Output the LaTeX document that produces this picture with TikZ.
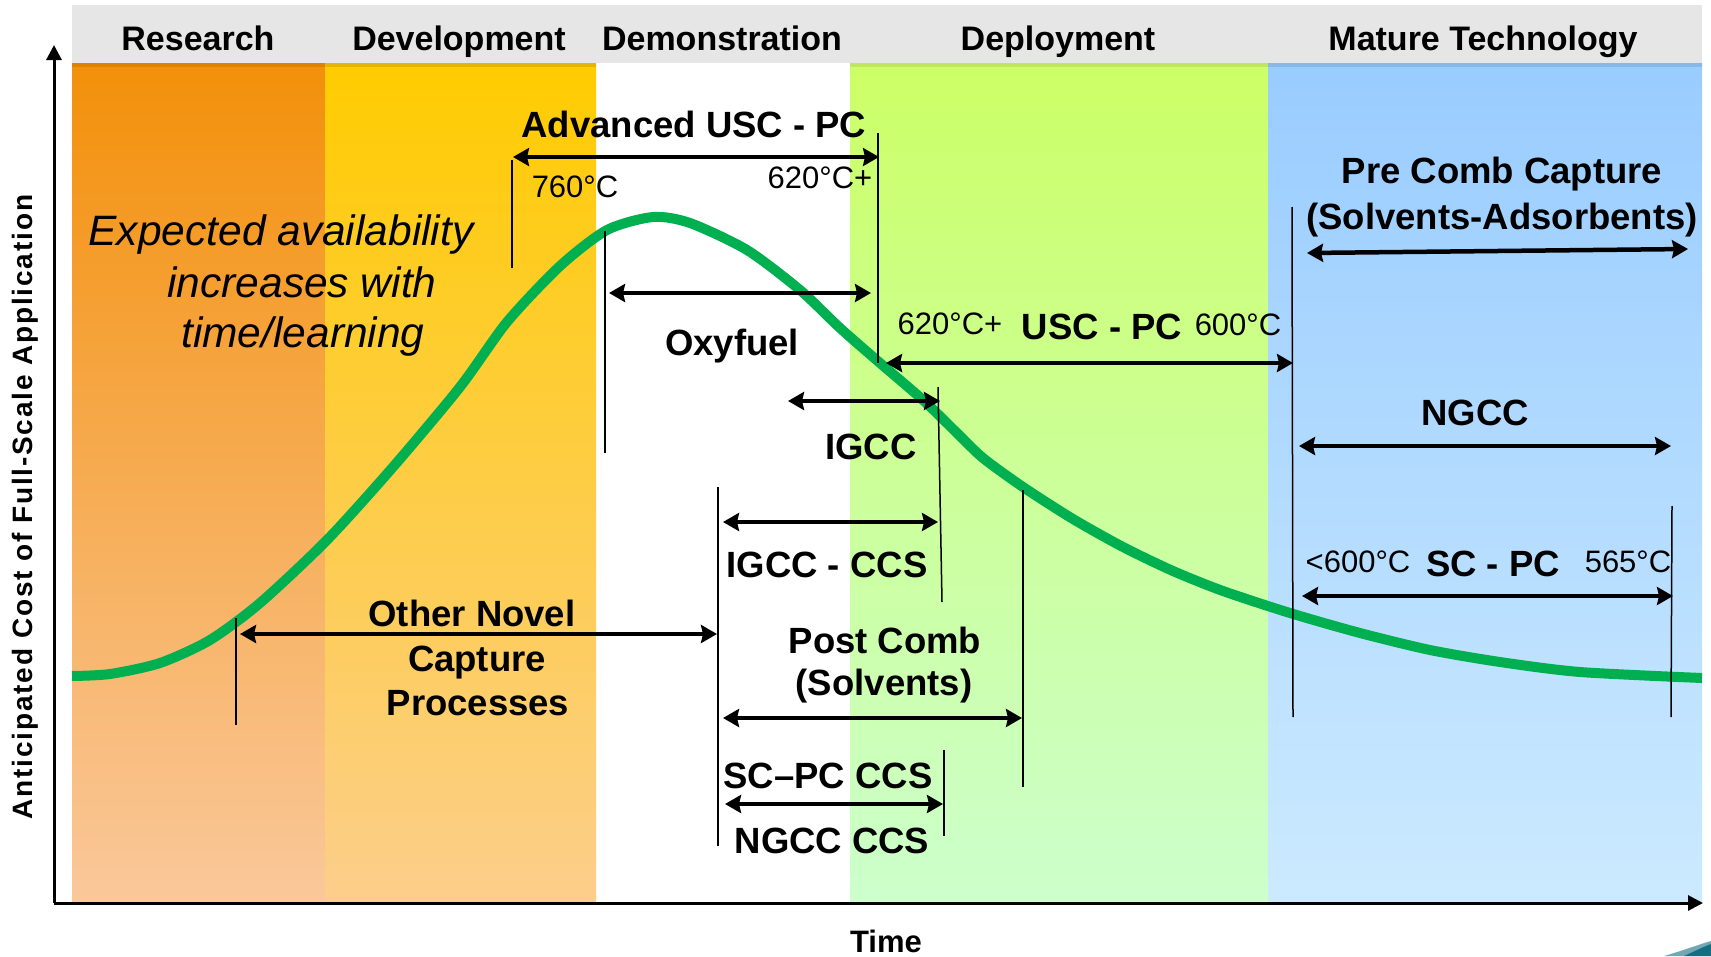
\documentclass[tikz,border=0pt]{standalone}
\usepackage{fontspec}
\setmainfont{Liberation Sans}
\newfontfamily\axisfont[LetterSpace=6.5]{Liberation Sans}
\usetikzlibrary{arrows.meta}
\definecolor{hdrgray}{RGB}{230,230,230}
\definecolor{resTop}{RGB}{243,144,10}
\definecolor{resBot}{RGB}{250,200,155}
\definecolor{resStr}{RGB}{222,130,0}
\definecolor{devTop}{RGB}{255,204,0}
\definecolor{devBot}{RGB}{252,206,140}
\definecolor{devStr}{RGB}{228,182,0}
\definecolor{depTop}{RGB}{204,255,102}
\definecolor{depBot}{RGB}{204,255,204}
\definecolor{depStr}{RGB}{190,230,95}
\definecolor{matTop}{RGB}{153,204,255}
\definecolor{matBot}{RGB}{204,234,255}
\definecolor{matStr}{RGB}{138,184,230}
\definecolor{curvegreen}{RGB}{0,176,80}
\definecolor{logoteal}{RGB}{20,110,130}
\begin{document}
\begin{tikzpicture}[x=1pt,y=-1pt,
  hdr/.style={font=\fontsize{34}{40}\selectfont\bfseries, anchor=base, inner sep=0pt},
  lbl/.style={font=\fontsize{36.5}{42}\selectfont\bfseries, anchor=base, inner sep=0pt},
  tmp/.style={font=\fontsize{31}{36}\selectfont, anchor=base, inner sep=0pt},
  ital/.style={font=\fontsize{42.5}{48}\selectfont\itshape, anchor=base, inner sep=0pt},
  darrow/.style={line width=4.5pt, {Stealth[length=16pt,width=18pt,inset=2pt]}-{Stealth[length=16pt,width=18pt,inset=2pt]}},
  axis/.style={line width=3pt, -{Triangle[length=15pt,width=15pt]}},
  tickline/.style={line width=1.5pt},
  costcurve/.style={line width=10pt, color=curvegreen, line join=round}
]
\useasboundingbox (0,0) rectangle (1711,956);
\fill[white] (0,0) rectangle (1711,956);

% header band
\fill[hdrgray] (72,5) rectangle (1702,63);

% stage bands
\shade[top color=resTop, bottom color=resBot] (72,63) rectangle (325,903);
\shade[top color=devTop, bottom color=devBot] (325,63) rectangle (596,903);
\shade[top color=depTop, bottom color=depBot] (850,63) rectangle (1268,903);
\shade[top color=matTop, bottom color=matBot] (1268,63) rectangle (1702,903);
\fill[resStr] (72,63) rectangle (325,67);
\fill[devStr] (325,63) rectangle (596,67);
\fill[depStr] (850,63) rectangle (1268,67);
\fill[matStr] (1268,63) rectangle (1702,67);

% header texts
\node[hdr] (hres) at (198,50) {Research};
\node[hdr] (hdev) at (459,50) {Development};
\node[hdr] (hdem) at (722,50) {Demonstration};
\node[hdr] (hdep) at (1058,50) {Deployment};
\node[hdr] (hmat) at (1483,50) {Mature Technology};

% cost curve
\draw[costcurve] plot[smooth, tension=0.45] coordinates {
 (72,676) (110,674) (160,663) (210,640) (260,603) (327,540) (393,467)
 (460,387) (507,322) (560,266) (607,230) (653,217) (690,223) (747,250)
 (800,290) (840,328) (880,363) (923,400) (957,433) (983,458) (1023,487)
 (1073,519) (1123,547) (1173,571) (1223,591) (1290,613) (1360,633)
 (1430,650) (1500,662) (1580,672) (1702,678)};

% axes
\coordinate (origin) at (54,903);
\coordinate (ytip) at (54,45);
\coordinate (xtip) at (1703,903);
\draw[axis] (origin) -- (ytip);
\draw[axis] (origin) -- (xtip);
\node[rotate=90, inner sep=0pt, font=\axisfont\fontsize{28}{32}\selectfont\bfseries] (ylab) at (25,507) {Anticipated Cost of Full-Scale Application};
\node[font=\fontsize{31}{36}\selectfont\bfseries, anchor=base, inner sep=0pt] (xlab) at (886,952) {Time};

% expected availability text
\node[ital] (exp1) at (281,245) {Expected availability};
\node[ital] (exp2) at (302,297) {increases with};
\node[ital] (exp3) at (303,347) {time/learning};

% ---- vertical marker lines
\coordinate (t1a) at (512,160); \coordinate (t1b) at (512,268);
\coordinate (t2a) at (878,133); \coordinate (t2b) at (878,363);
\coordinate (t3a) at (605,231); \coordinate (t3b) at (605,453);
\coordinate (t4a) at (938,387); \coordinate (t4b) at (942,602);
\coordinate (t5a) at (718,487); \coordinate (t5b) at (718,846);
\coordinate (t6a) at (236,618); \coordinate (t6b) at (236,725);
\coordinate (t7a) at (1023,490); \coordinate (t7b) at (1023,787);
\coordinate (t8a) at (944,750); \coordinate (t8b) at (944,836);
\coordinate (t9a) at (1292,207); \coordinate (t9b) at (1293,717);
\coordinate (t10a) at (1672,506); \coordinate (t10b) at (1671,717);
\foreach \t in {1,...,10} \draw[tickline] (t\t a) -- (t\t b);

% ---- arrows
\coordinate (a1l) at (513,157); \coordinate (a1r) at (879,157);
\coordinate (a2l) at (609,293); \coordinate (a2r) at (871,293);
\coordinate (a3l) at (886,363); \coordinate (a3r) at (1293,363);
\coordinate (a4l) at (788,401); \coordinate (a4r) at (940,401);
\coordinate (a5l) at (723,522); \coordinate (a5r) at (938,522);
\coordinate (a6l) at (240,634); \coordinate (a6r) at (717,634);
\coordinate (a7l) at (723,718); \coordinate (a7r) at (1022,718);
\coordinate (a8l) at (725,804); \coordinate (a8r) at (943,804);
\coordinate (a9l) at (1307,253); \coordinate (a9r) at (1688,249);
\coordinate (a10l) at (1299,446); \coordinate (a10r) at (1671,446);
\coordinate (a11l) at (1302,596); \coordinate (a11r) at (1673,596);
\foreach \a in {1,...,11} \draw[darrow] (a\a l) -- (a\a r);

% ---- labels
\node[lbl] (advusc) at (694,137) {Advanced USC - PC};
\node[tmp] (t760) at (575,197) {760°C};
\node[tmp] (t620a) at (820,188) {620°C+};
\node[lbl] (oxy) at (732,355) {Oxyfuel};
\node[tmp] (t620b) at (950,334) {620°C+};
\node[lbl] (uscpc) at (1102,339) {USC - PC};
\node[tmp] (t600) at (1238,335) {600°C};
\node[lbl] (igcc) at (871,459) {IGCC};
\node[lbl] (igccccs) at (827,577) {IGCC - CCS};
\node[lbl] (onov1) at (472,626) {Other Novel};
\node[lbl] (onov2) at (477,671) {Capture};
\node[lbl] (onov3) at (478,715) {Processes};
\node[lbl] (post1) at (885,653) {Post Comb};
\node[lbl] (post2) at (884,695) {(Solvents)};
\node[lbl] (scpcccs) at (828,788) {SC\textendash PC CCS};
\node[lbl] (ngccccs) at (832,853) {NGCC CCS};
\node[lbl] (pre1) at (1502,183) {Pre Comb Capture};
\node[lbl] (pre2) at (1502,229) {(Solvents-Adsorbents)};
\node[lbl] (ngcc) at (1475,425) {NGCC};
\node[tmp] (t600b) at (1358,572) {<600°C};
\node[lbl] (scpc) at (1493,576) {SC - PC};
\node[tmp] (t565) at (1628,572) {565°C};

% partial logo at the corner
\fill[logoteal!60] (1664,956) .. controls (1685,950) and (1700,944) .. (1711,941) -- (1711,956) -- cycle;
\fill[logoteal] (1684,956) .. controls (1695,951) and (1703,947) .. (1711,944) -- (1711,956) -- cycle;
\end{tikzpicture}
\end{document}
